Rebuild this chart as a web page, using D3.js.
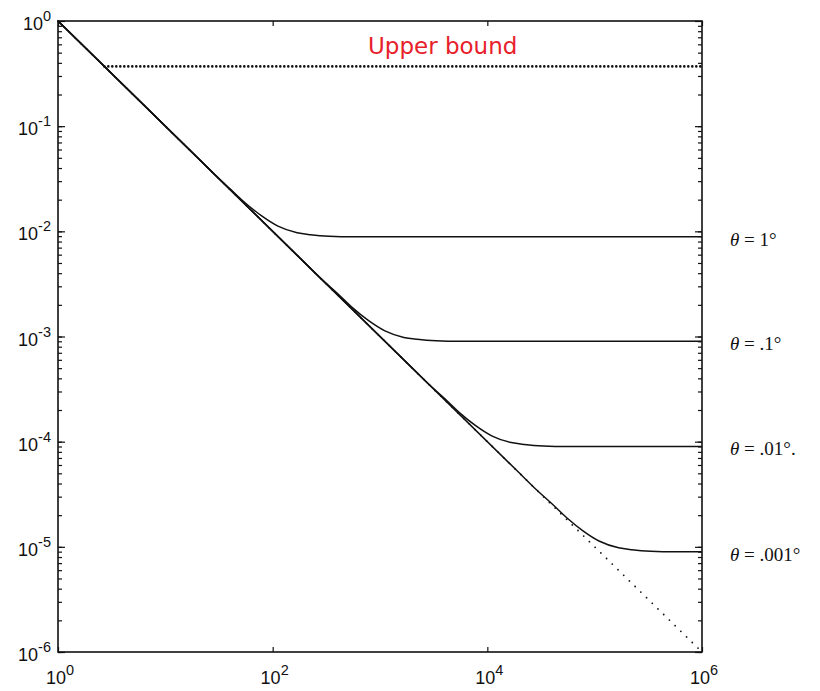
<!DOCTYPE html>
<html>
<head>
<meta charset="utf-8">
<script src="https://cdn.jsdelivr.net/npm/d3@7"></script>
<style>
  html, body { margin: 0; padding: 0; background: #fff; }
  svg { display: block; }
</style>
</head>
<body>
<svg id="chart" width="820" height="691"></svg>
<script>
// ---- data ----
const xTickValues = [1, 1e2, 1e4, 1e6];
const xTickExponents = ["0", "2", "4", "6"];
const yTickValues = [1, 1e-1, 1e-2, 1e-3, 1e-4, 1e-5, 1e-6];
const yTickExponents = ["0", "-1", "-2", "-3", "-4", "-5", "-6"];

const seriesNames = ["1°", ".1°", ".01°.", ".001°"];
const seriesLevels = [0.0089, 0.00090, 0.000090, 0.0000090];

const curve1X = [1, 20, 28, 40, 56, 79, 112, 169, 225, 337, 562, 1e6];
const curve1Y = [1, 0.05, 0.0357, 0.0254, 0.0185, 0.0140, 0.0112, 0.0097, 0.0093, 0.0090, 0.0089, 0.0089];
const curve2X = [1, 200, 280, 400, 556, 778, 1111, 1667, 2222, 3333, 5556, 1e6];
const curve2Y = [1, 0.005, 0.00357, 0.00257, 0.00187, 0.00142, 0.00113, 0.00098, 0.00094, 0.00091, 0.00090, 0.00090];
const curve3X = [1, 2000, 2800, 4000, 5560, 7780, 11100, 16700, 22200, 33300, 55600, 1e6];
const curve3Y = [1, 0.0005, 0.000357, 0.000257, 0.000187, 0.000142, 0.000113, 0.000098, 0.000094, 0.000091, 0.000090, 0.000090];
const curve4X = [1, 20000, 28000, 40000, 55600, 77800, 111000, 167000, 222000, 333000, 556000, 1e6];
const curve4Y = [1, 0.00005, 0.0000357, 0.0000257, 0.0000187, 0.0000142, 0.0000113, 0.0000098, 0.0000094, 0.0000091, 0.0000090, 0.0000090];

const diagonalX = [1, 1e6];
const diagonalY = [1, 1e-6];
const upperBoundX = [2.7, 1e6];
const upperBoundY = [0.37, 0.37];
const upperBoundLabel = "Upper bound";

// ---- layout ----
const svg = d3.select("#chart");
const plotL = 58, plotR = 702, plotT = 21, plotB = 652;
const x = d3.scaleLog().domain([1, 1e6]).range([plotL, plotR]);
const y = d3.scaleLog().domain([1e-6, 1]).range([plotB, plotT]);

const zip = (xs, ys) => xs.map((v, i) => [v, ys[i]]);
const line = d3.line().x(d => x(d[0])).y(d => y(d[1]));
const smooth = d3.line().x(d => x(d[0])).y(d => y(d[1])).curve(d3.curveMonotoneX);

// Axes with inward ticks
const yMinor = [];
for (let e = -6; e < 0; e++) for (let m = 1; m <= 9; m++) yMinor.push(m * Math.pow(10, e));

const gLeft = svg.append("g").attr("transform", `translate(${plotL},0)`)
  .call(d3.axisRight(y).tickValues(yMinor).tickSize(4).tickFormat(""));
const gRight = svg.append("g").attr("transform", `translate(${plotR},0)`)
  .call(d3.axisLeft(y).tickValues(yMinor).tickSize(4).tickFormat(""));
const gLeftMaj = svg.append("g").attr("transform", `translate(${plotL},0)`)
  .call(d3.axisRight(y).tickValues(yTickValues).tickSize(7).tickFormat(""));
const gRightMaj = svg.append("g").attr("transform", `translate(${plotR},0)`)
  .call(d3.axisLeft(y).tickValues(yTickValues).tickSize(7).tickFormat(""));
const gBottom = svg.append("g").attr("transform", `translate(0,${plotB})`)
  .call(d3.axisTop(x).tickValues(xTickValues).tickSize(5).tickFormat(""));
const gTop = svg.append("g").attr("transform", `translate(0,${plotT})`)
  .call(d3.axisBottom(x).tickValues(xTickValues).tickSize(5).tickFormat(""));
[gLeft, gRight, gLeftMaj, gRightMaj, gBottom, gTop].forEach(g => {
  g.select(".domain").remove();
  g.selectAll(".tick line").attr("stroke", "#111").attr("stroke-width", 1.2);
});

// frame
svg.append("rect")
  .attr("x", plotL).attr("y", plotT)
  .attr("width", plotR - plotL).attr("height", plotB - plotT)
  .attr("fill", "none").attr("stroke", "#111").attr("stroke-width", 1.6);

// tick labels
const labFont = "'Liberation Sans', Arial, sans-serif";
yTickValues.forEach((v, i) => {
  const t = svg.append("text")
    .attr("x", 51).attr("y", y(v) + 9)
    .attr("text-anchor", "end")
    .attr("font-family", labFont).attr("font-size", 18).attr("fill", "#111");
  t.append("tspan").text("10");
  t.append("tspan").attr("dy", -9).attr("font-size", 14.5).text(yTickExponents[i]);
});
xTickValues.forEach((v, i) => {
  const t = svg.append("text")
    .attr("x", x(v) + 2).attr("y", 684)
    .attr("text-anchor", "middle")
    .attr("font-family", labFont).attr("font-size", 18).attr("fill", "#111");
  t.append("tspan").text("10");
  t.append("tspan").attr("dy", -9).attr("font-size", 14.5).text(xTickExponents[i]);
});

// dotted diagonal 1/x
svg.append("path")
  .attr("d", line(zip(diagonalX, diagonalY)))
  .attr("fill", "none").attr("stroke", "#111")
  .attr("stroke-width", 1.8).attr("stroke-linecap", "round")
  .attr("stroke-dasharray", "0 8");

// upper bound dotted
svg.append("path")
  .attr("d", line(zip(upperBoundX, upperBoundY)))
  .attr("fill", "none").attr("stroke", "#111")
  .attr("stroke-width", 2.6).attr("stroke-linecap", "round")
  .attr("stroke-dasharray", "0 4");

// solid curves
const curves = [zip(curve1X, curve1Y), zip(curve2X, curve2Y), zip(curve3X, curve3Y), zip(curve4X, curve4Y)];
curves.forEach(c => {
  svg.append("path")
    .attr("d", smooth(c))
    .attr("fill", "none").attr("stroke", "#111")
    .attr("stroke-width", 1.5);
});

// series labels
seriesNames.forEach((s, i) => {
  const t = svg.append("text")
    .attr("x", 730).attr("y", y(seriesLevels[i]) + 9)
    .attr("font-family", "'Liberation Serif', 'Times New Roman', serif")
    .attr("font-size", 19).attr("fill", "#111");
  t.append("tspan").attr("font-style", "italic").text("θ");
  t.append("tspan").text(" = " + s);
});

// upper bound annotation
svg.append("text")
  .attr("x", 368).attr("y", 54)
  .attr("font-family", "'DejaVu Sans', sans-serif")
  .attr("font-size", 23).attr("fill", "#e8202a")
  .text(upperBoundLabel);
</script>
</body>
</html>
